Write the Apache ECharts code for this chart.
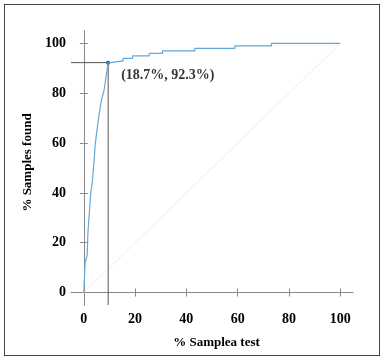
<!DOCTYPE html>
<html>
<head>
<meta charset="utf-8">
<style>
html,body{margin:0;padding:0;background:#fff;}
#frame{position:absolute;left:4px;top:4px;width:376px;height:352px;border:1.6px solid #444;border-right-width:1.2px;box-sizing:border-box;}
#chart{position:absolute;left:0;top:0;width:386px;height:361px;}
</style>
<script src="https://cdn.jsdelivr.net/npm/echarts@6/dist/echarts.min.js"></script>
</head>
<body>
<div id="frame"></div>
<div id="chart"></div>
<script>
// Cumulative gain curve (% samples tested vs % samples found)
const curveX = [0, 0.5, 1.3, 1.6, 2.7, 3.4, 4.5, 5.3, 6.1, 6.9, 7.9, 9.5, 10.5, 10.5, 15.3, 15.3, 19.0, 19.0, 25.5, 25.5, 30.7, 30.7, 43.3, 43.3, 58.9, 58.9, 73.2, 73.2, 100];
const curveY = [0, 12, 15, 24, 40, 45, 60, 66.5, 72.5, 77.3, 81.3, 92.3, 92.3, 93, 93, 94, 94, 95, 95, 96, 96, 97, 97, 98, 98, 99, 99, 100, 100];
const diagX = [0, 100];
const diagY = [0, 100];
const cutX = 9.5;
const cutY = 92.3;
const cutLabel = '(18.7%, 92.3%)';
const tickValues = [0, 20, 40, 60, 80, 100];
const axisMin = -5, axisMax = 105;

const zip = (a, b) => a.map((v, i) => [v, b[i]]);
const font = 'Liberation Serif';

const axisCommon = {
  type: 'value', min: axisMin, max: axisMax,
  axisLine: { show: true, lineStyle: { color: '#888', width: 1 } },
  axisTick: { show: true, customValues: tickValues, length: 4, lineStyle: { color: '#888' } },
  splitLine: { show: false }
};

const chart = echarts.init(document.getElementById('chart'), null, { renderer: 'canvas' });
chart.setOption({
  animation: false,
  grid: { left: 71, top: 31, right: 33, bottom: 56, containLabel: false },
  xAxis: [
    Object.assign({}, axisCommon, {
      position: 'bottom',
      name: '% Samplea test', nameLocation: 'middle', nameGap: 31,
      nameTextStyle: { fontFamily: font, fontWeight: 'bold', fontSize: 13, color: '#000', padding: [0, 0, 0, 9] },
      axisLabel: { customValues: tickValues, fontFamily: font, fontWeight: 'bold', fontSize: 14, color: '#000', margin: 7 }
    }),
    Object.assign({}, axisCommon, { position: 'top', axisLabel: { show: false } })
  ],
  yAxis: [
    Object.assign({}, axisCommon, {
      position: 'left',
      name: '% Samples found', nameLocation: 'middle', nameGap: 37,
      nameTextStyle: { fontFamily: font, fontWeight: 'bold', fontSize: 13, color: '#000', padding: [0, 0, 0, 11] },
      axisLabel: { customValues: tickValues, fontFamily: font, fontWeight: 'bold', fontSize: 14, color: '#000', margin: 5 }
    }),
    Object.assign({}, axisCommon, { position: 'right', axisLabel: { show: false } })
  ],
  series: [
    {
      type: 'line', data: zip(diagX, diagY), symbol: 'none', silent: true,
      lineStyle: { color: '#ececec', width: 1 }
    },
    {
      type: 'line', data: [[axisMin, cutY], [cutX, cutY], [cutX, axisMin]], symbol: 'none', silent: true,
      lineStyle: { color: '#555', width: 1 }
    },
    {
      type: 'line', data: zip(curveX, curveY), symbol: 'none', silent: true,
      lineStyle: { color: '#62a8d8', width: 1.2 }
    },
    {
      type: 'scatter', data: [[cutX, cutY]], symbol: 'circle', symbolSize: 4, silent: true,
      itemStyle: { color: '#111' },
      label: { show: true, formatter: cutLabel, position: [15, 8], fontFamily: font, fontWeight: 'bold', fontSize: 14, color: '#000' }
    }
  ]
});
</script>
</body>
</html>
